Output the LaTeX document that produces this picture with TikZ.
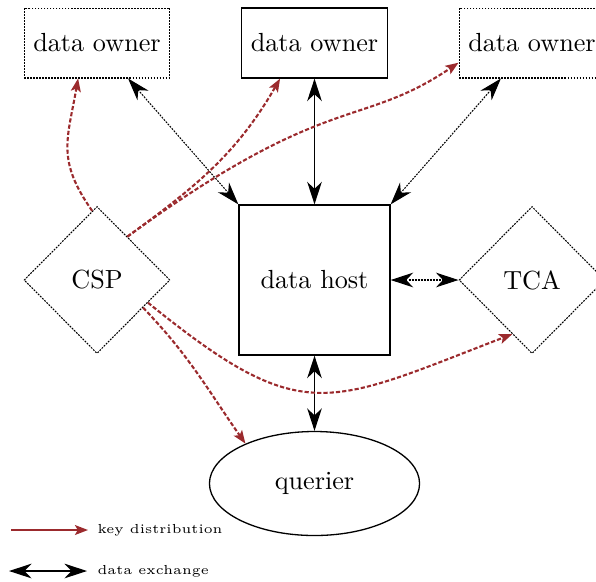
\documentclass[tikz,border=0pt]{standalone}
\usetikzlibrary{arrows.meta,shapes.geometric}
\definecolor{keyred}{RGB}{155,42,45}
\begin{document}
\begin{tikzpicture}[x=0.3817pt,y=0.3817pt,
  box/.style={draw, line width=0.5pt, rectangle, inner sep=0pt, minimum width=55.7pt, minimum height=26.7pt},
  dotbox/.style={box, line width=0.4pt, dash pattern=on 0.7pt off 0.45pt},
  dia/.style={draw, diamond, inner sep=0pt, minimum width=55.7pt, minimum height=56.1pt, line width=0.4pt, dash pattern=on 0.7pt off 0.45pt},
  big/.tip={Stealth[length=8.6pt,width=5.6pt,inset=2.7pt]},
  ex/.style={big-big, line width=0.5pt},
  exdot/.style={ex, line width=0.4pt, dash pattern=on 0.7pt off 0.45pt},
  key/.style={-{Stealth[length=5pt,width=3.8pt,inset=1.1pt]}, draw=keyred, line width=0.8pt, dash pattern=on 1.6pt off 0.8pt},
  keysolid/.style={-{Stealth[length=5pt,width=3.8pt,inset=1.1pt]}, draw=keyred, line width=0.6pt},
  lab/.style={anchor=west, inner sep=0pt, font=\tiny}]
\useasboundingbox (0,0) rectangle (596,-581);
\clip (0,0) rectangle (596,-581);
% nodes
\node[dotbox] (own1) at (97,-43) {data owner};
\node[box] (own2) at (314.5,-43) {data owner};
\node[dotbox] (own3) at (532,-43) {data owner};
\node[box, minimum width=57.64pt, minimum height=57.26pt] (host) at (314.5,-280) {data host};
\node[dia] (csp) at (97,-280) {CSP};
\node[dia] (tca) at (532,-280) {TCA};
\node[draw, ellipse, line width=0.5pt, inner sep=0pt, minimum width=80.2pt, minimum height=39.7pt] (querier) at (314.5,-483.5) {querier};
% data exchange
\draw[ex] (own2) -- (host);
\draw[ex] (host) -- (querier);
\draw[exdot] (own1) -- (host.north west);
\draw[exdot] (own3) -- (host.north east);
\draw[exdot] (host) -- (tca);
% key distribution
\draw[key] (csp.94) to[out=125,in=-100,looseness=1.2] (own1.-118.5);
\draw[key] (csp.55) to[out=36,in=-120] (own2.-134.6);
\draw[key] (csp.55) to[out=36,in=-146,out distance=95.4pt,in distance=45.8pt] (own3.-165.6);
\draw[key] (csp.-31.3) to[out=-46,in=125] (querier.150.5);
\draw[key] (csp.-24) to[out=-39,in=-159,looseness=1.4] (tca.-110.7);
% legend
\coordinate (k1) at (11,-530);
\coordinate (k2) at (88,-530);
\coordinate (d1) at (9,-571);
\coordinate (d2) at (87,-571);
\draw[keysolid] (k1) -- (k2);
\draw[ex] (d1) -- (d2);
\node[lab] (kt) at (97,-530) {key distribution};
\node[lab] (dt) at (97,-571) {data exchange};
\end{tikzpicture}
\end{document}
